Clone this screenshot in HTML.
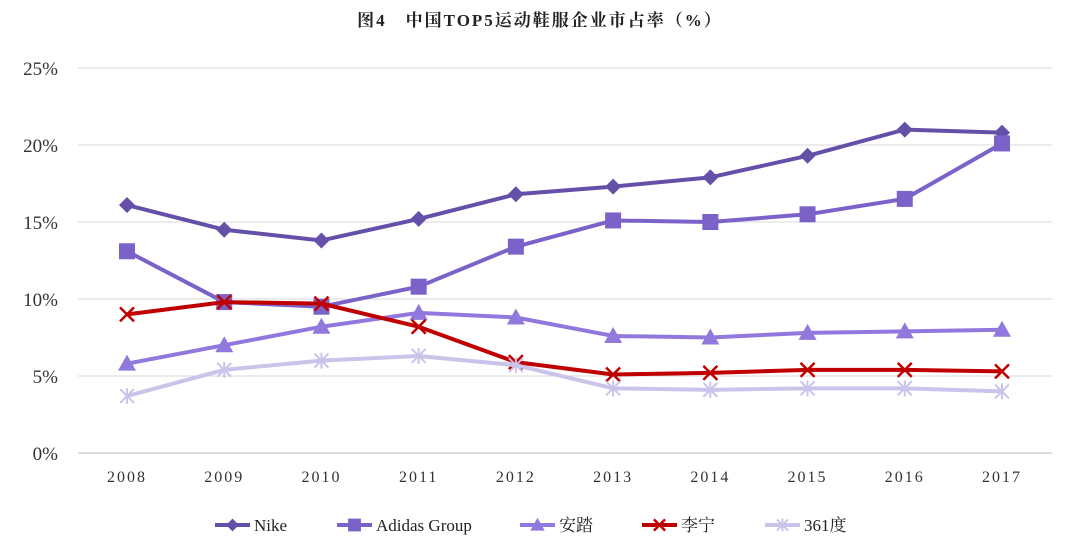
<!DOCTYPE html>
<html><head><meta charset="utf-8"><style>
body{margin:0;background:#fff;}
svg{display:block;font-family:"Liberation Serif","Noto Serif CJK SC",serif;}
</style></head><body>
<svg id="chart" width="1080" height="558" viewBox="0 0 1080 558">
<text x="540" y="26" text-anchor="middle" font-size="17" font-weight="bold" fill="#222" letter-spacing="2">图4　中国TOP5运动鞋服企业市占率（%）</text>
<g id="grid"></g><g id="series"></g><g id="legend"></g>
</svg>
<script>
const years=["2008","2009","2010","2011","2012","2013","2014","2015","2016","2017"];
const yTicks=[0,5,10,15,20,25];
const nike=[16.1,14.5,13.8,15.2,16.8,17.3,17.9,19.3,21.0,20.8];
const adidas=[13.1,9.8,9.5,10.8,13.4,15.1,15.0,15.5,16.5,20.1];
const anta=[5.8,7.0,8.2,9.1,8.8,7.6,7.5,7.8,7.9,8.0];
const lining=[9.0,9.8,9.7,8.2,5.9,5.1,5.2,5.4,5.4,5.3];
const s361=[3.7,5.4,6.0,6.3,5.7,4.2,4.1,4.2,4.2,4.0];
const seriesNames=["Nike","Adidas Group","安踏","李宁","361度"];
const NS="http://www.w3.org/2000/svg";
const x=i=>127+i*(1002-127)/9;
const y=v=>453-v*(453-68)/25;
function mk(t,a,p){const e=document.createElementNS(NS,t);for(const k in a)e.setAttribute(k,a[k]);p.appendChild(e);return e;}
const grid=document.getElementById('grid');
yTicks.forEach(t=>{
  const l=mk('line',{x1:78,x2:1052,y1:y(t),y2:y(t),stroke:t===0?'#bbb':'#d9d9d9','stroke-width':1},grid);
  
  
  const tx=mk('text',{x:58,y:y(t)+7,'text-anchor':'end','font-size':19,fill:'#333'},grid);
  tx.textContent=t+'%';
  
  
});
years.forEach((yr,i)=>{
  const tx=mk('text',{x:x(i),y:482,'text-anchor':'middle','font-size':16,fill:'#333','letter-spacing':2},grid);
  tx.textContent=yr;
  
  
});
const defs=[
 {d:nike,c:'#6550a9',m:'diamond',key:'nike'},
 {d:adidas,c:'#7b62c9',m:'square',key:'adidas'},
 {d:anta,c:'#9178dd',m:'triangle',key:'anta'},
 {d:lining,c:'#c00000',m:'x',key:'lining'},
 {d:s361,c:'#cbc3ea',m:'star',key:'361'}
];
function marker(m,cx,cy,c,p,s){
  s=s||1;let e;
  if(m==='diamond')e=mk('polygon',{points:`${cx},${cy-8*s} ${cx+8*s},${cy} ${cx},${cy+8*s} ${cx-8*s},${cy}`,fill:c},p);
  else if(m==='square')e=mk('rect',{x:cx-8*s,y:cy-8*s,width:16*s,height:16*s,fill:c},p);
  else if(m==='triangle')e=mk('polygon',{points:`${cx},${cy-9*s} ${cx+9*s},${cy+7*s} ${cx-9*s},${cy+7*s}`,fill:c},p);
  else if(m==='x')e=mk('path',{d:`M${cx-7*s},${cy-7*s}L${cx+7*s},${cy+7*s}M${cx+7*s},${cy-7*s}L${cx-7*s},${cy+7*s}`,stroke:c,'stroke-width':2.5,fill:'none'},p);
  else e=mk('path',{d:`M${cx-7*s},${cy-7*s}L${cx+7*s},${cy+7*s}M${cx+7*s},${cy-7*s}L${cx-7*s},${cy+7*s}M${cx},${cy-8*s}L${cx},${cy+8*s}`,stroke:c,'stroke-width':2,fill:'none'},p);
  return e;
}
const sg=document.getElementById('series');
defs.forEach(s=>{
  const g=mk('g',{},sg);
  
  
  const pl=mk('polyline',{points:s.d.map((v,i)=>x(i)+','+y(v)).join(' '),fill:'none',stroke:s.c,'stroke-width':4,'stroke-linejoin':'round'},g);
  
  
  s.d.forEach((v,i)=>{
    const e=marker(s.m,x(i),y(v),s.c,g);
    
    
  });
});
const lg=document.getElementById('legend');
const lx=[215,337,520,642,765];
const tx=[254,376,559,681,804];
defs.forEach((s,i)=>{
  const g=mk('g',{},lg);
  
  
  mk('line',{x1:lx[i],x2:lx[i]+35,y1:525,y2:525,stroke:s.c,'stroke-width':4},g);
  marker(s.m,lx[i]+17.5,525,s.c,g,0.8);
  const t=mk('text',{x:tx[i],y:531,'font-size':17,fill:'#222'},g);
  t.textContent=seriesNames[i];
});
</script>
</body></html>
